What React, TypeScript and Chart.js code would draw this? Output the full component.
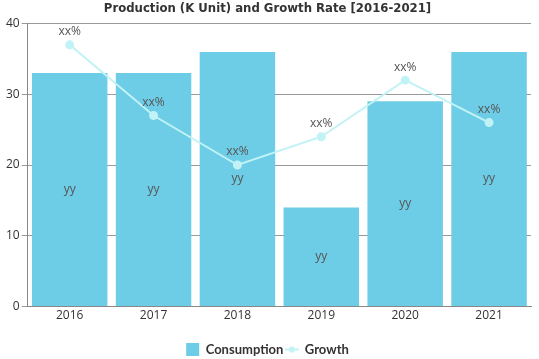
import React, { useEffect, useRef } from "react";
import { Chart, registerables } from "chart.js";

Chart.register(...registerables);

const categories = ["2016", "2017", "2018", "2019", "2020", "2021"];
const consumption = [33, 33, 36, 14, 29, 36];
const growth = [37, 27, 20, 24, 32, 26];
const barLabels = ["yy", "yy", "yy", "yy", "yy", "yy"];
const lineLabels = ["xx%", "xx%", "xx%", "xx%", "xx%", "xx%"];
const yTicks = [0, 10, 20, 30, 40];

const BAR_COLOR = "#6ecde6";
const LINE_COLOR = "#c0f2f6";

const labelPlugin = {
  id: "valueLabels",
  afterDatasetsDraw(chart: any) {
    const ctx = chart.ctx;
    ctx.save();
    ctx.font = "12px 'Open Sans', 'DejaVu Sans', sans-serif";
    ctx.fillStyle = "#555";
    ctx.textAlign = "center";
    ctx.textBaseline = "middle";
    const barMeta = chart.getDatasetMeta(0);
    barMeta.data.forEach((el: any, i: number) => {
      const y = (el.y + el.base) / 2;
      ctx.fillText(barLabels[i], el.x, y);
    });
    const lineMeta = chart.getDatasetMeta(1);
    lineMeta.data.forEach((el: any, i: number) => {
      ctx.fillText(lineLabels[i], el.x, el.y - 13);
    });
    ctx.restore();
  },
};

function makeLineMarker(): HTMLCanvasElement {
  const c = document.createElement("canvas");
  c.width = 14;
  c.height = 8;
  const g = c.getContext("2d")!;
  g.strokeStyle = LINE_COLOR;
  g.fillStyle = LINE_COLOR;
  g.lineWidth = 2;
  g.beginPath();
  g.moveTo(0, 4);
  g.lineTo(14, 4);
  g.stroke();
  g.beginPath();
  g.arc(7, 4, 3, 0, Math.PI * 2);
  g.fill();
  return c;
}

export default function App() {
  const ref = useRef<HTMLCanvasElement>(null);
  useEffect(() => {
    document.body.style.margin = "0";
    const marker = makeLineMarker();
    const chart = new Chart(ref.current!, {
      type: "bar",
      data: {
        labels: categories,
        datasets: [
          {
            type: "bar",
            label: "Consumption",
            data: consumption,
            backgroundColor: BAR_COLOR,
            borderWidth: 0,
            barPercentage: 0.9,
            categoryPercentage: 1,
            order: 2,
          },
          {
            type: "line",
            label: "Growth",
            data: growth,
            borderColor: LINE_COLOR,
            backgroundColor: LINE_COLOR,
            borderWidth: 2,
            pointRadius: 3.5,
            pointHoverRadius: 3.5,
            order: 1,
          } as any,
        ],
      },
      options: {
        animation: false,
        responsive: false,
        layout: { padding: { left: 4, right: 8, bottom: -7 } },
        plugins: {
          title: {
            display: true,
            text: "Production (K Unit) and Growth Rate [2016-2021]",
            font: { family: "'DejaVu Sans Condensed', sans-serif", size: 13, weight: "bold" },
            color: "#333",
            padding: { top: 1, bottom: 7 },
          },
          legend: {
            position: "bottom",
            title: { display: true, text: " ", font: { size: 1 }, padding: { top: 0, bottom: 15 } },
            labels: {
              font: { family: "Lato, 'Open Sans', sans-serif", size: 13, weight: "bold" },
              color: "#333",
              boxWidth: 13,
              boxHeight: 13,
              padding: 2,
              usePointStyle: true,
              generateLabels: (c: any) => [
                {
                  text: "Consumption",
                  fillStyle: BAR_COLOR,
                  strokeStyle: BAR_COLOR,
                  lineWidth: 0,
                  pointStyle: "rect",
                  datasetIndex: 0,
                  fontColor: "#333",
                },
                {
                  text: "Growth",
                  fillStyle: LINE_COLOR,
                  strokeStyle: LINE_COLOR,
                  lineWidth: 2,
                  pointStyle: marker,
                  datasetIndex: 1,
                  fontColor: "#333",
                },
              ],
            },
          },
          tooltip: { enabled: false },
        },
        scales: {
          x: {
            grid: { display: false, drawTicks: false, tickLength: 0 },
            border: { display: true, color: "#888" },
            ticks: { color: "#333", font: { size: 12, family: "'Open Sans', sans-serif" }, padding: 2 },
          },
          y: {
            min: 0,
            max: 40,
            afterBuildTicks: (axis: any) => {
              axis.ticks = yTicks.map((v) => ({ value: v }));
            },
            grid: { color: "#999", tickLength: 6 },
            border: { display: true, color: "#888" },
            ticks: { color: "#333", font: { size: 12, family: "'Open Sans', sans-serif" }, padding: 2 },
          },
        },
      },
      plugins: [labelPlugin],
    });
    return () => chart.destroy();
  }, []);
  return <canvas ref={ref} width={539} height={359} />;
}
